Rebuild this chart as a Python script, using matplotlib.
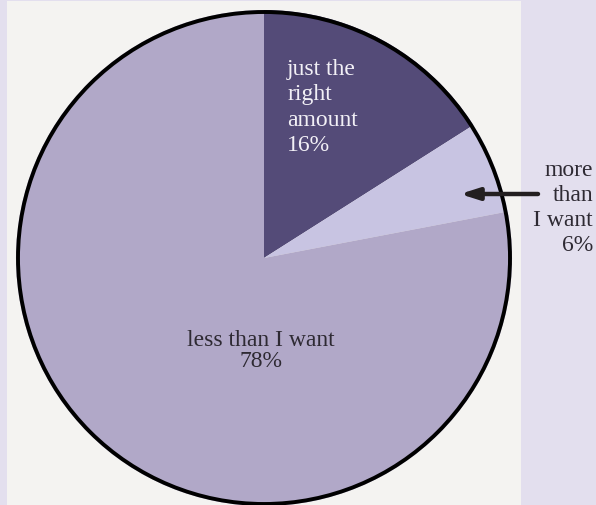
import matplotlib.pyplot as plt
from matplotlib.patches import Circle, Rectangle

# Survey shares, clockwise from 12 o'clock
LABELS = ["just the\nright\namount", "more\nthan\nI want", "less than I want"]
SHARES = [16, 6, 78]
COLORS = ["#544b78", "#c8c4e2", "#b1a8c8"]

BG_COLOR = "#e3dfee"
PANEL_COLOR = "#f4f3f1"
FONT = ["Liberation Serif", "DejaVu Serif"]

W, H = 596, 506
CX, CY, R = 264, H - 259, 248

fig = plt.figure(figsize=(W / 100, H / 100), dpi=100, facecolor=BG_COLOR)
ax = fig.add_axes([0, 0, 1, 1])
ax.set_axis_off()

ax.add_patch(Rectangle((7, 0), 514, H - 2, facecolor=PANEL_COLOR, edgecolor="none", zorder=0))

ax.pie(
    SHARES,
    colors=COLORS,
    startangle=90,
    counterclock=False,
    radius=R,
    center=(CX, CY),
    wedgeprops=dict(linewidth=0, zorder=1),
)
ax.add_patch(Circle((CX, CY), R - 2, facecolor="none", edgecolor="black", linewidth=2.8, zorder=2))

ax.set_xlim(0, W)
ax.set_ylim(0, H)
ax.set_aspect("auto")

fs = 17
ax.text(287, H - 59, f"{LABELS[0]}\n{SHARES[0]}%", color="#f2f0f6", fontsize=fs, family=FONT,
        ha="left", va="top", linespacing=1.27, zorder=3)
ax.text(261, H - 351, f"{LABELS[2]}\n{SHARES[2]}%", color="#2e2a33", fontsize=fs, family=FONT,
        ha="center", va="center", linespacing=1.05, zorder=3)
ax.text(593, H - 208, f"{LABELS[1]}\n{SHARES[1]}%", color="#2e2a33", fontsize=fs, family=FONT,
        ha="right", va="center", linespacing=1.23, zorder=3)

ax.annotate("", xy=(460, H - 195), xytext=(538, H - 195),
            arrowprops=dict(arrowstyle="-|>,head_length=1.1,head_width=0.35", color="#231f20",
                            lw=3.2, shrinkA=0, shrinkB=0), zorder=4)

fig.savefig("out.png", dpi=100, facecolor=BG_COLOR)
